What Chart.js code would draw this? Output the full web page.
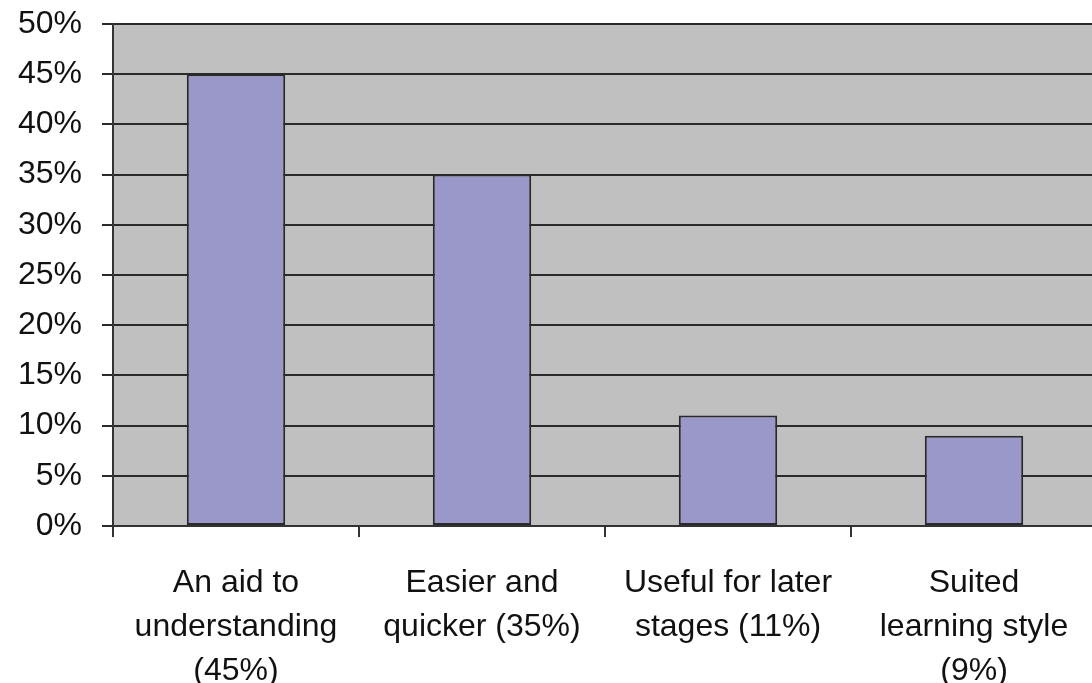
<!DOCTYPE html>
<html>
<head>
<meta charset="utf-8">
<script src="https://cdn.jsdelivr.net/npm/chart.js@4.4.0/dist/chart.umd.min.js"></script>
<style>
    html, body { margin: 0; padding: 0; background: #fff; overflow: hidden; }
    #wrap { width: 1100px; height: 683px; }
</style>
</head>
<body>
<div id="wrap"><canvas id="reasons-chart" width="1100" height="683"></canvas></div>
<script>
const categories = [
    ['An aid to', 'understanding', '(45%)'],
    ['Easier and', 'quicker (35%)'],
    ['Useful for later', 'stages (11%)'],
    ['Suited', 'learning style', '(9%)']
];
const percentages = [45, 35, 11, 9];
const yTicks = [0, 5, 10, 15, 20, 25, 30, 35, 40, 45, 50];

// grey plot background like the old spreadsheet charts
const plotBackground = {
    id: 'plotBackground',
    beforeDraw(chart) {
        const { ctx, chartArea } = chart;
        ctx.save();
        ctx.fillStyle = '#c0c0c0';
        ctx.fillRect(chartArea.left, chartArea.top, chartArea.right - chartArea.left, chartArea.bottom - chartArea.top);
        ctx.restore();
    }
};

const font = { family: '"Liberation Sans", Arial, sans-serif', size: 32, lineHeight: 1.375 };

new Chart(document.getElementById('reasons-chart').getContext('2d'), {
    type: 'bar',
    data: {
        labels: categories,
        datasets: [{
            data: percentages,
            backgroundColor: '#9a97c9',
            borderColor: '#2a2a2a',
            borderWidth: 2,
            borderSkipped: false,
            barPercentage: 0.4,
            categoryPercentage: 1.0
        }]
    },
    options: {
        responsive: false,
        animation: false,
        devicePixelRatio: 1,
        layout: { padding: { top: 24, right: 3, left: 0, bottom: 0 } },
        plugins: {
            legend: { display: false },
            tooltip: { enabled: false }
        },
        scales: {
            x: {
                offset: true,
                grid: {
                    offset: true,
                    drawOnChartArea: false,
                    color: '#333',
                    lineWidth: 2,
                    tickLength: 11
                },
                border: { color: '#333', width: 2 },
                ticks: {
                    color: '#111',
                    font: font,
                    padding: 24,
                    maxRotation: 0,
                    autoSkip: false
                },
                afterFit(scale) {
                    scale.height = 157;
                    scale.paddingLeft = 0;
                    scale.paddingRight = 0;
                }
            },
            y: {
                min: 0,
                max: 50,
                afterBuildTicks(scale) {
                    scale.ticks = yTicks.map(v => ({ value: v }));
                },
                grid: {
                    color: '#2a2a2a',
                    lineWidth: 2,
                    tickLength: 11
                },
                border: { color: '#333', width: 2 },
                ticks: {
                    color: '#111',
                    font: font,
                    padding: 20,
                    callback: v => v + '%'
                },
                afterFit(scale) {
                    scale.width = 113;
                    scale.paddingTop = 0;
                    scale.paddingBottom = 0;
                }
            }
        }
    },
    plugins: [plotBackground]
});
</script>
</body>
</html>
